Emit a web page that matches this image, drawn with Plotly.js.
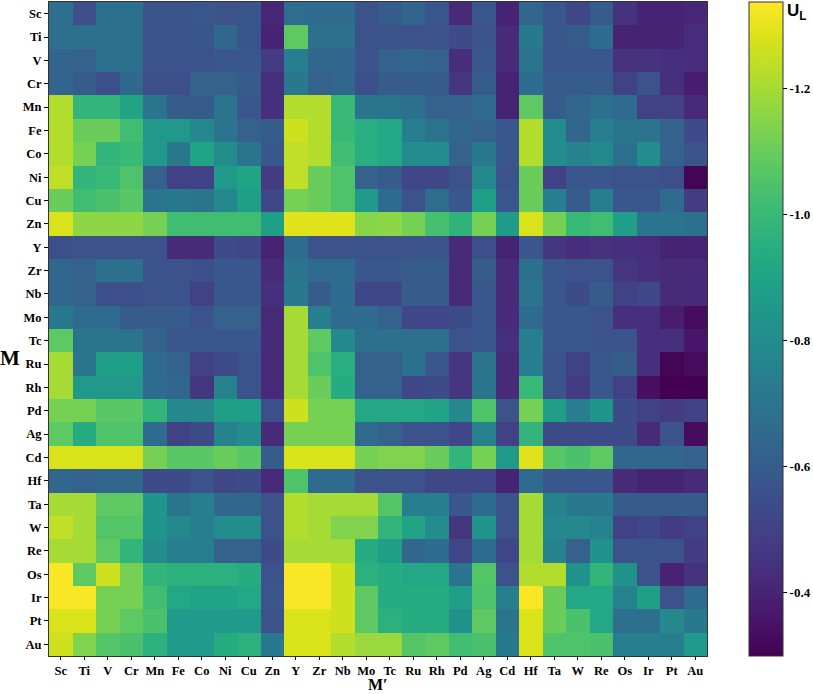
<!DOCTYPE html>
<html>
<head>
<meta charset="utf-8">
<script src="https://cdn.plot.ly/plotly-3.0.1.min.js"></script>
<style>html,body{margin:0;padding:0;background:#fff;}</style>
</head>
<body>
<div id="chart" style="width:813px;height:694px;"></div>
<script>
// Categories (columns M', rows M)
const elements = ["Sc","Ti","V","Cr","Mn","Fe","Co","Ni","Cu","Zn","Y","Zr","Nb","Mo","Tc","Ru","Rh","Pd","Ag","Cd","Hf","Ta","W","Re","Os","Ir","Pt","Au"];

// U_L values, one array per row M, columns in order of `elements`
const rowSc = [-0.68,-0.55,-0.68,-0.68,-0.57,-0.57,-0.58,-0.56,-0.57,-0.41,-0.67,-0.66,-0.66,-0.56,-0.60,-0.63,-0.58,-0.42,-0.58,-0.40,-0.64,-0.58,-0.52,-0.60,-0.45,-0.40,-0.40,-0.41];
const rowTi = [-0.68,-0.68,-0.68,-0.68,-0.56,-0.56,-0.57,-0.65,-0.57,-0.40,-1.08,-0.68,-0.68,-0.56,-0.56,-0.56,-0.56,-0.54,-0.56,-0.42,-0.72,-0.58,-0.60,-0.66,-0.40,-0.40,-0.40,-0.43];
const rowV  = [-0.63,-0.62,-0.68,-0.68,-0.56,-0.56,-0.56,-0.58,-0.58,-0.48,-0.74,-0.64,-0.64,-0.56,-0.62,-0.64,-0.62,-0.43,-0.58,-0.42,-0.70,-0.58,-0.58,-0.58,-0.45,-0.45,-0.44,-0.43];
const rowCr = [-0.63,-0.60,-0.55,-0.65,-0.55,-0.55,-0.62,-0.62,-0.60,-0.44,-0.72,-0.62,-0.64,-0.55,-0.60,-0.60,-0.60,-0.46,-0.60,-0.40,-0.66,-0.60,-0.60,-0.60,-0.50,-0.56,-0.44,-0.38];
const rowMn = [-1.22,-0.98,-0.98,-0.90,-0.70,-0.60,-0.60,-0.70,-0.58,-0.44,-1.22,-1.22,-1.00,-0.70,-0.70,-0.68,-0.62,-0.62,-0.66,-0.40,-1.08,-0.60,-0.64,-0.68,-0.66,-0.50,-0.50,-0.42];
const rowFe = [-1.22,-1.10,-1.10,-1.02,-0.85,-0.85,-0.78,-0.70,-0.62,-0.60,-1.26,-1.22,-1.00,-0.95,-0.92,-0.74,-0.70,-0.64,-0.62,-0.58,-1.22,-0.80,-0.64,-0.74,-0.70,-0.70,-0.62,-0.54];
const rowCo = [-1.22,-1.12,-0.98,-1.00,-0.85,-0.72,-0.90,-0.80,-0.70,-0.58,-1.24,-1.22,-1.02,-0.95,-0.92,-0.80,-0.80,-0.62,-0.72,-0.58,-1.22,-0.80,-0.76,-0.78,-0.68,-0.80,-0.62,-0.56];
const rowNi = [-1.24,-0.98,-1.00,-1.05,-0.62,-0.50,-0.50,-0.85,-0.90,-0.48,-1.24,-1.10,-1.05,-0.62,-0.60,-0.52,-0.52,-0.56,-0.78,-0.56,-1.10,-0.50,-0.58,-0.58,-0.56,-0.56,-0.55,-0.31];
const rowCu = [-1.10,-1.02,-1.04,-1.07,-0.70,-0.72,-0.70,-0.78,-0.88,-0.52,-1.12,-1.10,-1.05,-0.86,-0.66,-0.56,-0.67,-0.58,-0.88,-0.58,-1.10,-0.74,-0.60,-0.74,-0.58,-0.58,-0.66,-0.48];
const rowZn = [-1.28,-1.16,-1.16,-1.16,-1.12,-1.02,-1.02,-1.02,-1.02,-0.88,-1.29,-1.29,-1.29,-1.15,-1.16,-1.12,-1.03,-0.97,-1.12,-0.87,-1.28,-1.12,-1.00,-1.02,-0.88,-0.70,-0.70,-0.68];
const rowY  = [-0.55,-0.56,-0.56,-0.56,-0.56,-0.42,-0.42,-0.54,-0.52,-0.40,-0.66,-0.56,-0.56,-0.56,-0.56,-0.56,-0.56,-0.42,-0.55,-0.40,-0.58,-0.46,-0.43,-0.45,-0.44,-0.43,-0.40,-0.40];
const rowZr = [-0.64,-0.62,-0.68,-0.68,-0.56,-0.56,-0.55,-0.58,-0.58,-0.42,-0.70,-0.66,-0.66,-0.58,-0.58,-0.60,-0.60,-0.42,-0.60,-0.42,-0.68,-0.58,-0.56,-0.56,-0.46,-0.44,-0.42,-0.42];
const rowNb = [-0.64,-0.62,-0.55,-0.55,-0.56,-0.56,-0.50,-0.58,-0.58,-0.44,-0.72,-0.60,-0.66,-0.52,-0.52,-0.60,-0.60,-0.42,-0.58,-0.42,-0.70,-0.58,-0.54,-0.60,-0.50,-0.52,-0.42,-0.42];
const rowMo = [-0.72,-0.66,-0.66,-0.60,-0.60,-0.60,-0.56,-0.62,-0.62,-0.42,-1.20,-0.74,-0.66,-0.66,-0.62,-0.52,-0.52,-0.54,-0.58,-0.42,-0.66,-0.58,-0.58,-0.56,-0.44,-0.44,-0.38,-0.33];
const rowTc = [-1.08,-0.70,-0.70,-0.70,-0.62,-0.58,-0.58,-0.58,-0.58,-0.42,-1.20,-1.08,-0.78,-0.68,-0.68,-0.68,-0.68,-0.56,-0.58,-0.44,-0.74,-0.58,-0.58,-0.56,-0.56,-0.44,-0.44,-0.36];
const rowRu = [-1.20,-0.70,-0.88,-0.88,-0.66,-0.62,-0.50,-0.54,-0.56,-0.42,-1.20,-1.05,-0.95,-0.62,-0.62,-0.68,-0.58,-0.46,-0.70,-0.42,-0.74,-0.56,-0.50,-0.58,-0.60,-0.44,-0.31,-0.33];
const rowRh = [-1.20,-0.85,-0.85,-0.85,-0.66,-0.64,-0.46,-0.76,-0.56,-0.42,-1.20,-1.10,-0.94,-0.62,-0.62,-0.52,-0.54,-0.46,-0.70,-0.42,-1.00,-0.56,-0.48,-0.58,-0.50,-0.34,-0.30,-0.30];
const rowPd = [-1.12,-1.12,-1.07,-1.07,-0.98,-0.78,-0.78,-0.88,-0.88,-0.55,-1.26,-1.12,-1.12,-0.92,-0.92,-0.92,-0.90,-0.78,-1.05,-0.56,-1.12,-0.88,-0.74,-0.84,-0.54,-0.50,-0.48,-0.50];
const rowAg = [-1.08,-0.94,-1.05,-1.05,-0.66,-0.50,-0.54,-0.76,-0.80,-0.42,-1.12,-1.12,-1.12,-0.66,-0.62,-0.56,-0.56,-0.52,-0.76,-0.50,-0.98,-0.54,-0.54,-0.54,-0.54,-0.42,-0.56,-0.33];
const rowCd = [-1.28,-1.28,-1.28,-1.28,-1.12,-1.07,-1.07,-1.10,-1.07,-0.60,-1.28,-1.28,-1.28,-1.12,-1.14,-1.14,-1.10,-0.98,-1.12,-0.85,-1.29,-1.07,-1.04,-1.08,-0.64,-0.64,-0.64,-0.62];
const rowHf = [-0.64,-0.62,-0.64,-0.64,-0.54,-0.54,-0.56,-0.52,-0.54,-0.42,-1.05,-0.66,-0.66,-0.56,-0.56,-0.56,-0.52,-0.52,-0.52,-0.40,-0.66,-0.58,-0.58,-0.58,-0.42,-0.40,-0.40,-0.42];
const rowTa = [-1.20,-1.20,-1.08,-1.08,-0.84,-0.70,-0.74,-0.64,-0.64,-0.56,-1.22,-1.20,-1.20,-1.20,-1.06,-0.74,-0.74,-0.58,-0.66,-0.56,-1.20,-0.76,-0.72,-0.72,-0.60,-0.60,-0.60,-0.60];
const rowW  = [-1.24,-1.20,-1.06,-1.06,-0.84,-0.78,-0.74,-0.80,-0.80,-0.56,-1.22,-1.20,-1.14,-1.14,-0.98,-0.90,-0.80,-0.46,-0.84,-0.56,-1.20,-0.78,-0.78,-0.76,-0.50,-0.52,-0.48,-0.50];
const rowRe = [-1.20,-1.20,-1.08,-0.98,-0.80,-0.74,-0.74,-0.62,-0.62,-0.54,-1.20,-1.20,-1.20,-0.94,-0.88,-0.64,-0.66,-0.52,-0.66,-0.52,-1.20,-0.76,-0.62,-0.82,-0.56,-0.56,-0.56,-0.48];
const rowOs = [-1.33,-1.08,-1.26,-1.12,-0.98,-0.96,-0.96,-0.96,-0.94,-0.56,-1.33,-1.33,-1.26,-0.96,-0.94,-0.92,-0.92,-0.70,-1.06,-0.56,-1.22,-1.22,-0.82,-0.98,-0.82,-0.56,-0.40,-0.45];
const rowIr = [-1.33,-1.33,-1.12,-1.12,-1.02,-0.92,-0.90,-0.90,-0.92,-0.58,-1.33,-1.33,-1.26,-1.08,-0.94,-0.94,-0.94,-0.88,-1.05,-0.74,-1.33,-1.10,-0.92,-0.92,-0.76,-0.88,-0.56,-0.66];
const rowPt = [-1.28,-1.28,-1.12,-1.08,-1.04,-0.86,-0.86,-0.86,-0.86,-0.56,-1.28,-1.28,-1.26,-1.08,-0.96,-0.94,-0.94,-0.82,-1.08,-0.70,-1.28,-1.10,-1.04,-0.92,-0.68,-0.68,-0.78,-0.72];
const rowAu = [-1.26,-1.14,-1.06,-1.04,-0.96,-0.86,-0.86,-0.94,-0.96,-0.72,-1.28,-1.28,-1.22,-1.18,-1.18,-1.06,-1.08,-1.02,-1.04,-0.72,-1.28,-1.05,-1.05,-1.04,-0.74,-0.74,-0.74,-0.86];

const colorbarTicks = [-0.4, -0.6, -0.8, -1.0, -1.2];
const ulMin = -1.337, ulMax = -0.30;

const rows = [rowSc,rowTi,rowV,rowCr,rowMn,rowFe,rowCo,rowNi,rowCu,rowZn,rowY,rowZr,rowNb,rowMo,rowTc,rowRu,rowRh,rowPd,rowAg,rowCd,rowHf,rowTa,rowW,rowRe,rowOs,rowIr,rowPt,rowAu];
// colour axis runs from -0.3 (purple, bottom) to -1.34 (yellow, top): plot the magnitude
const z = rows.map(r => r.map(v => -v));

const serifBold = {family: "Liberation Serif, Times New Roman, serif", size: 12.5, color: "#000", weight: "bold"};

const trace = {
  type: "heatmap",
  x: elements,
  y: elements,
  z: z,
  customdata: rows,
  hovertemplate: "M=%{y}, M'=%{x}<br>U<sub>L</sub>=%{customdata}<extra></extra>",
  colorscale: "Viridis",
  zmin: -ulMax,
  zmax: -ulMin,
  colorbar: {
    x: 1.062, xanchor: "left", xpad: 0,
    y: 0.5, yanchor: "middle", len: 1, lenmode: "fraction", ypad: 0,
    thickness: 34,
    outlinewidth: 1, outlinecolor: "#333",
    tickmode: "array",
    tickvals: colorbarTicks.map(v => -v),
    ticktext: colorbarTicks.map(v => v.toFixed(1)),
    ticks: "outside", ticklen: 4, tickcolor: "#000",
    tickfont: {family: "Liberation Serif, Times New Roman, serif", size: 13, color: "#000", weight: "bold"}
  }
};

const layout = {
  width: 813, height: 694,
  margin: {l: 49, r: 105, t: 2, b: 38},
  paper_bgcolor: "#fff", plot_bgcolor: "#fff",
  xaxis: {
    type: "category", ticks: "outside", ticklen: 3, tickcolor: "#000",
    tickfont: serifBold, showline: true, mirror: true, linecolor: "#333", linewidth: 1,
    showgrid: false, zeroline: false, fixedrange: true
  },
  yaxis: {
    type: "category", autorange: "reversed", ticks: "outside", ticklen: 4, tickcolor: "#000",
    tickfont: serifBold, showline: true, mirror: true, linecolor: "#333", linewidth: 1,
    showgrid: false, zeroline: false, fixedrange: true
  },
  annotations: [
    {text: "M", xref: "paper", yref: "paper", x: -0.059, y: 0.456, xanchor: "center", yanchor: "middle",
     showarrow: false, font: {family: "Liberation Serif, Times New Roman, serif", size: 21, color: "#000", weight: "bold"}},
    {text: "M\u2032", xref: "paper", yref: "paper", x: 0.5, y: -0.058, xanchor: "center", yanchor: "bottom",
     borderpad: 0, showarrow: false, font: {family: "Liberation Serif, Times New Roman, serif", size: 16, color: "#000", weight: "bold"}},
    {text: "U<sub>L</sub>", xref: "paper", yref: "paper", x: 1.118, y: 0.985, xanchor: "left", yanchor: "middle",
     showarrow: false, font: {family: "Liberation Sans, Arial, sans-serif", size: 17, color: "#000", weight: "bold"}}
  ]
};

Plotly.newPlot("chart", [trace], layout, {displayModeBar: false, staticPlot: false});
</script>
</body>
</html>
